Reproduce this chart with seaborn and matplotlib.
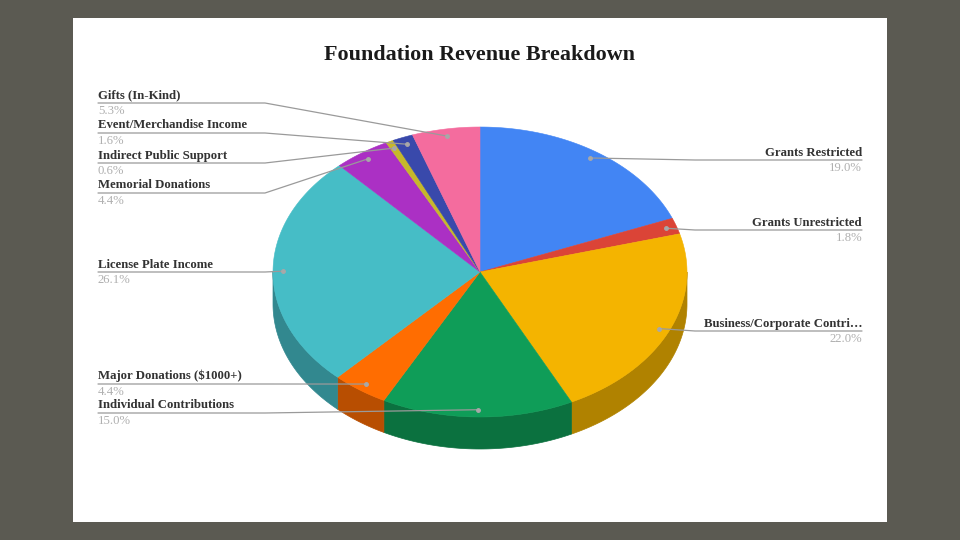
import numpy as np
import matplotlib
matplotlib.use("Agg")
import matplotlib.pyplot as plt
from matplotlib.patches import Polygon, Rectangle
import seaborn as sns

# ---- data ----
categories = ["Grants Restricted", "Grants Unrestricted", "Business/Corporate Contri\u2026",
              "Individual Contributions", "Major Donations ($1000+)", "License Plate Income",
              "Memorial Donations", "Indirect Public Support", "Event/Merchandise Income",
              "Gifts (In-Kind)"]
values = [19.0, 1.8, 22.0, 15.0, 4.4, 26.1, 4.4, 0.6, 1.6, 5.3]
colors = ["#4285F4", "#DB4437", "#F4B400", "#0F9D58", "#FF6D01", "#46BDC6",
          "#AB30C4", "#C6B82B", "#3949AB", "#F46C9E"]
title = "Foundation Revenue Breakdown"

# ---- layout (pixel space) ----
sns.set_theme(style="white")
plt.rcParams["font.family"] = ["Liberation Serif", "DejaVu Serif"]

W, H = 960, 540
fig = plt.figure(figsize=(9.6, 5.4), dpi=100, facecolor="#5B5A52")
ax = fig.add_axes([0, 0, 1, 1])
ax.set_xlim(0, W)
ax.set_ylim(H, 0)
ax.axis("off")
ax.add_patch(Rectangle((73, 18), 814, 504, facecolor="white", edgecolor="none", zorder=0))

cx, cy, rx, ry, depth = 480, 272, 207, 145, 32
pal = sns.color_palette(colors)

def pt(t, r=1.0, dy=0.0):
    return cx + r * rx * np.cos(np.radians(t)), cy - r * ry * np.sin(np.radians(t)) + dy

total = sum(values)
starts, ends = [], []
a = 90.0
for v in values:
    b = a - v / total * 360.0
    starts.append(a)
    ends.append(b)
    a = b

# side walls (front half only)
for s, e, c in zip(starts, ends, pal):
    lo, hi = max(e, -180.0), min(s, 0.0)
    if hi <= lo:
        continue
    t = np.linspace(lo, hi, 80)
    top = np.array([pt(tt) for tt in t])
    bot = np.array([pt(tt, dy=depth) for tt in t])[::-1]
    dark = tuple(np.array(c) * 0.72)
    ax.add_patch(Polygon(np.vstack([top, bot]), closed=True, facecolor=dark,
                         edgecolor=dark, linewidth=0.5, zorder=2))

# top faces
for s, e, c in zip(starts, ends, pal):
    t = np.linspace(e, s, 120)
    verts = np.vstack([[cx, cy], np.array([pt(tt) for tt in t])])
    ax.add_patch(Polygon(verts, closed=True, facecolor=c, edgecolor=c,
                         linewidth=0.4, zorder=3))

# labels
left_side = {"Gifts (In-Kind)": 103, "Event/Merchandise Income": 133,
             "Indirect Public Support": 163, "Memorial Donations": 193,
             "License Plate Income": 272, "Major Donations ($1000+)": 384,
             "Individual Contributions": 413}
right_side = {"Grants Restricted": 160, "Grants Unrestricted": 230,
              "Business/Corporate Contri\u2026": 331}

for name, v, s, e in zip(categories, values, starts, ends):
    mid = (s + e) / 2
    axp, ayp = pt(mid, r=0.95)
    if name in left_side:
        ly = left_side[name]
        xs, ha, x_el = 98, "left", 265
    else:
        ly = right_side[name]
        xs, ha, x_el = 862, "right", 695
    ax.plot([xs, x_el, axp], [ly, ly, ayp], color="#9A9A9A", lw=0.9, zorder=5)
    ax.plot([axp], [ayp], "o", ms=2.5, color="#A8A8A8", zorder=6)
    ax.text(xs, ly - 1.5, name, ha=ha, va="bottom", fontsize=9.2, fontweight="bold",
            color="#333333", zorder=7)
    ax.text(xs, ly + 2, f"{v:.1f}%", ha=ha, va="top", fontsize=9.2,
            color="#B0B0B0", zorder=7)

ax.text(480, 55, title, ha="center", va="center", fontsize=15.8, fontweight="bold",
        color="#1a1a1a")

fig.savefig("out.png", dpi=100, facecolor=fig.get_facecolor())
